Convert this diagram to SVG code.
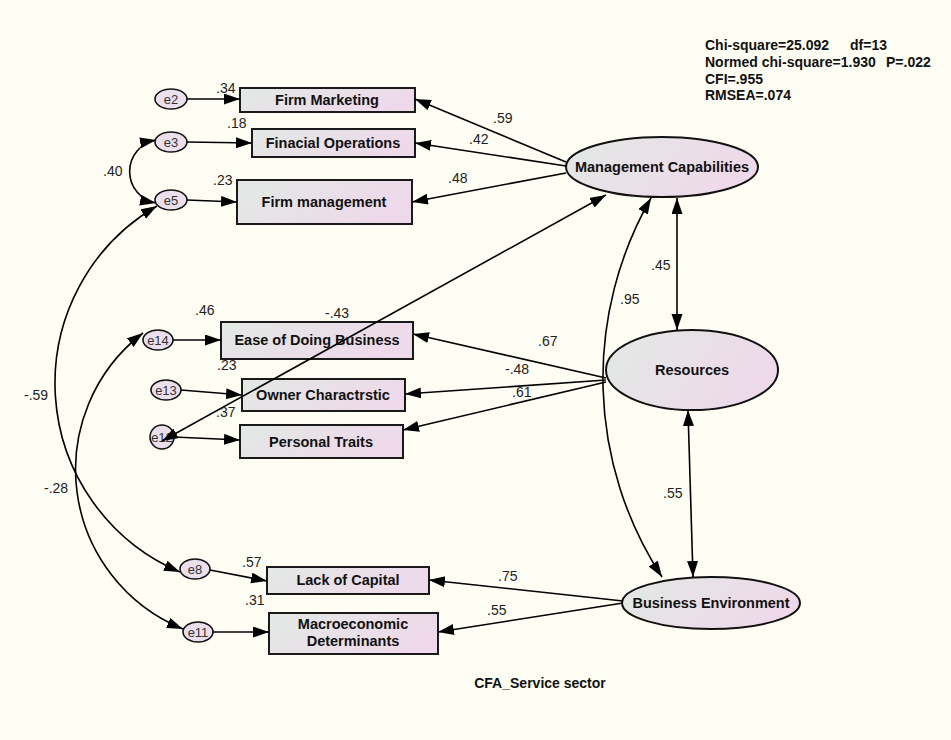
<svg xmlns="http://www.w3.org/2000/svg" width="951" height="740" viewBox="0 0 951 740">
<defs>
<linearGradient id="g" x1="0" y1="0" x2="1" y2="0.3">
<stop offset="0" stop-color="#e2e9e4"/>
<stop offset="1" stop-color="#eed9ea"/>
</linearGradient>
<marker id="ah" markerUnits="userSpaceOnUse" markerWidth="18" markerHeight="13" refX="16" refY="5.5" orient="auto-start-reverse">
<path d="M0,0 L16,5.5 L0,11 z" fill="#000"/>
</marker>
<style>
.box{fill:url(#g);stroke:#1a1a1a;stroke-width:2}
.lat{fill:url(#g);stroke:#111;stroke-width:2}
.err{fill:#ebdfec;stroke:#111;stroke-width:1.6}
.bt{font-family:"Liberation Sans",Arial,sans-serif;font-weight:bold;font-size:14.5px;fill:#111;text-anchor:middle}
.et{font-family:"Liberation Sans",Arial,sans-serif;font-size:13px;fill:#333;text-anchor:middle}
.nt{font-family:"Liberation Sans",Arial,sans-serif;font-size:14px;fill:#222}
.st{font-family:"Liberation Sans",Arial,sans-serif;font-weight:bold;font-size:14px;fill:#111}
.c{fill:none;stroke:#000;stroke-width:1.6}
.one{marker-end:url(#ah)}
.two{marker-start:url(#ah);marker-end:url(#ah)}
</style>
</defs>
<rect width="951" height="740" fill="#fefef5"/>

<g id="nodes">
<g id="firm_marketing"><rect class="box" x="240" y="88" width="175" height="24"/><text class="bt" x="327" y="105">Firm Marketing</text></g>
<g id="finacial_operations"><rect class="box" x="252" y="129" width="163" height="28"/><text class="bt" x="333" y="148">Finacial Operations</text></g>
<g id="firm_management"><rect class="box" x="237" y="180" width="175" height="44"/><text class="bt" x="324" y="207">Firm management</text></g>
<g id="ease_doing_business"><rect class="box" x="221" y="322" width="192" height="37"/><text class="bt" x="317" y="345">Ease of Doing Business</text></g>
<g id="owner_charactrstic"><rect class="box" x="242" y="379" width="163" height="32"/><text class="bt" x="323" y="400">Owner Charactrstic</text></g>
<g id="personal_traits"><rect class="box" x="240" y="425" width="163" height="33"/><text class="bt" x="321" y="447">Personal Traits</text></g>
<g id="lack_of_capital"><rect class="box" x="267" y="567" width="162" height="27"/><text class="bt" x="348" y="585">Lack of Capital</text></g>
<g id="macroeconomic_determinants"><rect class="box" x="269" y="613" width="169" height="41"/><text class="bt" x="353" y="629">Macroeconomic</text><text class="bt" x="353" y="646">Determinants</text></g>

<g id="management_capabilities"><ellipse class="lat" cx="662" cy="167" rx="96" ry="30"/><text class="bt" x="662" y="172">Management Capabilities</text></g>
<g id="resources"><ellipse class="lat" cx="692" cy="370" rx="86" ry="40"/><text class="bt" x="692" y="375">Resources</text></g>
<g id="business_environment"><ellipse class="lat" cx="711" cy="603" rx="89" ry="26"/><text class="bt" x="711" y="608">Business Environment</text></g>

<g id="e2"><ellipse class="err" cx="171" cy="99" rx="16" ry="10"/><text class="et" x="171" y="104">e2</text></g>
<g id="e3"><ellipse class="err" cx="171" cy="142" rx="16" ry="10"/><text class="et" x="171" y="147">e3</text></g>
<g id="e5"><ellipse class="err" cx="171" cy="200" rx="16" ry="10"/><text class="et" x="171" y="205">e5</text></g>
<g id="e14"><ellipse class="err" cx="158" cy="340" rx="15" ry="10"/><text class="et" x="158" y="345">e14</text></g>
<g id="e13"><ellipse class="err" cx="166" cy="390" rx="15" ry="10"/><text class="et" x="166" y="395">e13</text></g>
<g id="e12"><circle class="err" cx="162" cy="437" r="12"/><text class="et" x="162" y="442">e12</text></g>
<g id="e8"><ellipse class="err" cx="195" cy="569" rx="15" ry="10"/><text class="et" x="195" y="574">e8</text></g>
<g id="e11"><ellipse class="err" cx="198" cy="632" rx="15" ry="10"/><text class="et" x="198" y="637">e11</text></g>
</g>

<g id="connectors">
<path class="c one" d="M187,99 L240,99"/>
<path class="c one" d="M187,142 L252,143"/>
<path class="c one" d="M187,200 L237,202"/>
<path class="c one" d="M173,340 L221,340"/>
<path class="c one" d="M181,390 L242,395"/>
<path class="c one" d="M174,437 L240,440"/>
<path class="c one" d="M210,570 L267,581"/>
<path class="c one" d="M213,632 L269,632"/>
<path class="c one" d="M566,162 L415,99"/>
<path class="c one" d="M566,166 L415,143"/>
<path class="c one" d="M566,173 L412,202"/>
<path class="c one" d="M606,378 L413,334"/>
<path class="c one" d="M606,380 L405,394"/>
<path class="c one" d="M606,382 L403,430"/>
<path class="c one" d="M623,601 L429,580"/>
<path class="c one" d="M623,603 L438,632"/>
<path class="c two" d="M677,198 L677,330"/>
<path class="c two" d="M688,410 L693,577"/>
<path class="c two" d="M651,198 A363,363 0 0 0 662,577"/>
<path class="c two" d="M162,441 L606,195"/>
<path class="c two" d="M156,140 A32,32 0 0 0 156,203"/>
<path class="c two" d="M157,206 A205,205 0 0 0 180,572"/>
<path class="c two" d="M143,333 A172,172 0 0 0 183,629"/>
</g>

<g id="labels">
<text class="nt" x="216" y="93">.34</text>
<text class="nt" x="227" y="128">.18</text>
<text class="nt" x="213" y="185">.23</text>
<text class="nt" x="195" y="315">.46</text>
<text class="nt" x="325" y="318">-.43</text>
<text class="nt" x="217" y="370">.23</text>
<text class="nt" x="216" y="417">.37</text>
<text class="nt" x="242" y="567">.57</text>
<text class="nt" x="245" y="605">.31</text>
<text class="nt" x="493" y="123">.59</text>
<text class="nt" x="469" y="144">.42</text>
<text class="nt" x="448" y="183">.48</text>
<text class="nt" x="651" y="270">.45</text>
<text class="nt" x="620" y="304">.95</text>
<text class="nt" x="663" y="498">.55</text>
<text class="nt" x="538" y="346">.67</text>
<text class="nt" x="505" y="374">-.48</text>
<text class="nt" x="512" y="397">.61</text>
<text class="nt" x="498" y="581">.75</text>
<text class="nt" x="487" y="615">.55</text>
<text class="nt" x="103" y="176">.40</text>
<text class="nt" x="24" y="400">-.59</text>
<text class="nt" x="44" y="493">-.28</text>
<text class="st" x="705" y="50">Chi-square=25.092<tspan x="850">df=13</tspan></text>
<text class="st" x="705" y="67">Normed chi-square=1.930<tspan x="886">P=.022</tspan></text>
<text class="st" x="705" y="84">CFI=.955</text>
<text class="st" x="705" y="100">RMSEA=.074</text>
<text class="st" x="540" y="688" text-anchor="middle">CFA_Service sector</text>
</g>
</svg>
